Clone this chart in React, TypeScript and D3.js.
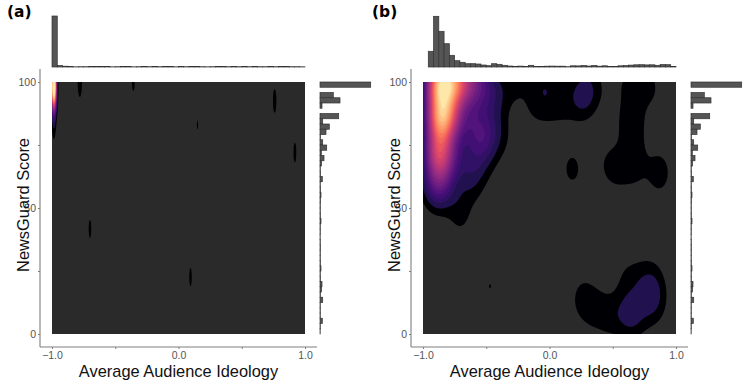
import React, { useEffect, useRef } from "react";
import * as d3 from "d3";

// histogram heights (48 bins each)
const topCountsA = [51, 1.4, 0.8, 0.4, 0.2, 0.3, 0.3, 0.4, 0.4, 0.5, 0.5, 0.2, 0.3, 0.4, 0.4, 0.2, 0.3, 0.4, 0.3, 0.4, 0.3, 0.4, 0.4, 0.2, 0.4, 0.3, 0.4, 0.4, 0.3, 0.2, 0.3, 0.4, 0.4, 0.3, 0.4, 0.3, 0.4, 0.3, 0.4, 0.3, 0.3, 0.4, 0.3, 0.4, 0.5, 0.3, 0.3, 0.2];
const topCountsB = [0, 15.7, 50.7, 35.7, 23.3, 11.7, 6.3, 4.7, 3.3, 3.3, 3, 2, 1.3, 3.3, 2.7, 1.7, 1, 0.7, 0.9, 0.6, 1.7, 0.5, 0.4, 0.8, 0.9, 0.8, 0.8, 0.3, 1.2, 1.1, 1.5, 1, 1.6, 0.8, 1.2, 0.4, 0.4, 1.2, 1.4, 1.9, 2.2, 2.3, 2.1, 2.2, 1.7, 2.4, 2.3, 0.5];
const sideCounts = [50.7, 0, 13.3, 20, 2, 0, 18.7, 2.7, 9.3, 6, 0.5, 2.7, 6.7, 1.3, 4, 1.5, 0.3, 0.5, 2.3, 0.3, 0.5, 1, 0.5, 0.3, 0.3, 0.4, 1, 0.3, 0.3, 0.2, 0.3, 0.4, 0.3, 0.3, 0.4, 1, 0.3, 0.4, 2, 1.5, 0.4, 2.7, 0.3, 0.3, 0.3, 2.3, 0.3, 0.2];

// density seeds, panel (a): audience ideology, score, weight
const seedXA = [-0.985, -0.985, -0.985, -0.78, -0.357, 0.76, 0.15, 0.92, -0.7, 0.095];
const seedYA = [100, 94, 82, 100, 100, 92.5, 83, 72, 41.7, 22.6];
const seedWA = [0.9, 0.5, 0.06, 0.085, 0.054, 0.0655, 0.0444, 0.057, 0.054, 0.054];

// density seeds, panel (b)
const seedXB = [-0.87, -0.87, -0.88, -0.86, -0.92, -0.78, -0.78, -0.78, -0.72, -0.62, -0.52, -0.42, -0.62, -0.52, -0.62, -0.55, -0.45, -0.62, -0.72, -0.7, -0.5, -0.58, -0.36, -0.28, -0.12, 0.0, 0.12, 0.26, 0.36, -0.12, 0.1, 0.3, -0.03, 0.18, 0.57, 0.72, 0.82, 0.68, 0.62, 0.68, 0.55, 0.45, 0.68, 0.87, 0.6, 0.72, 0.82, 0.26, 0.36, 0.48, 0.82, 0.84, 0.65, 0.6, 0.74, -0.47];
const seedYB = [100, 86, 72, 60, 60, 100, 86, 70, 100, 100, 98, 94, 84, 80, 68, 76, 80, 60, 52, 46, 70, 62, 78, 100, 90, 90, 90, 94, 97, 100, 100, 100, 100, 65.5, 100, 100, 97, 86, 84, 74, 66, 67, 65, 64, 23, 22, 22, 14, 10, 7, 16, 12, 7, 9, 10, 19];
const seedWB = [0.64, 0.56, 0.42, 0.15, 0.08, 0.32, 0.3, 0.13, 0.28, 0.2, 0.11, 0.06, 0.1, 0.08, 0.06, 0.05, 0.045, 0.03, 0.03, 0.03, 0.03, 0.02, 0.025, 0.045, 0.032, 0.032, 0.032, 0.08, 0.03, 0.02, 0.02, 0.02, 0.044, 0.05, 0.03, 0.04, 0.03, 0.028, 0.043, 0.03, 0.045, 0.03, 0.035, 0.06, 0.03, 0.035, 0.03, 0.05, 0.045, 0.045, 0.042, 0.036, 0.06, 0.035, 0.03, 0.0419];

const xTicks = [-1, -0.5, 0, 0.5, 1];
const yTicks = [0, 25, 50, 75, 100];
const xLabels = [-1, 0, 1];
const yLabels = [0, 50, 100];

const NBANDS = 24;
const STEP = 1 / NBANDS;
const GRID = 2; // grid cells per pixel
const W = 253;
const H = 252;
const bandColor = (k: number) =>
  k === 0 ? d3.interpolateMagma(0) : d3.interpolateMagma(0.14 + ((k - 1) / (NBANDS - 2)) * 0.85);

function densityPaths(seedX: number[], seedY: number[], seedW: number[], bwX: number, bwY: number, left: number, top: number) {
  const n = W * GRID;
  const m = H * GRID;
  const gx = d3.scaleLinear([0, n], [-1, 1]);
  const gy = d3.scaleLinear([0, m], [100, 0]);
  const values = new Float64Array(n * m);
  seedX.forEach((sx, s) => {
    for (let j = 0; j < m; j++) {
      const dy = (gy(j + 0.5) - seedY[s]) / bwY;
      if (dy * dy > 25) continue;
      for (let i = 0; i < n; i++) {
        const dx = (gx(i + 0.5) - sx) / bwX;
        const d = dx * dx + dy * dy;
        if (d < 25) values[j * n + i] += seedW[s] * Math.exp(-d / 2);
      }
    }
  });
  const thresholds = d3.range(1, NBANDS).map((k) => k * STEP);
  const contours = d3.contours().size([n, m]).smooth(true).thresholds(thresholds)(values as any);
  const path = d3.geoPath(
    d3.geoTransform({
      point(x, y) {
        this.stream.point(left + x / GRID, top + y / GRID);
      },
    })
  );
  return contours.map((c, k) => ({ d: path(c as any) || "", fill: bandColor(k) }));
}

const Panel = ({ left, label, labelX, topCounts, seedX, seedY, seedW, bwX, bwY }: any) => {
  const top = 82;
  const axisX = left - 12;
  const axisY = 347;
  const x = d3.scaleLinear([-1, 1], [left, left + W]);
  const y = d3.scaleLinear([0, 100], [top + H, top]);
  const topBand = d3.scaleBand(d3.range(48), [left, left + W]);
  const sideBand = d3.scaleBand(d3.range(48), [top, top + H]);
  const hTop = d3.scaleLinear([0, 51], [67, 16]);
  const hSide = d3.scaleLinear([0, 51], [left + 268, left + 319]);
  const xAxisRef = useRef<SVGGElement>(null);
  const yAxisRef = useRef<SVGGElement>(null);

  useEffect(() => {
    const xAxis = d3
      .axisBottom(x)
      .tickValues(xTicks)
      .tickSize(2)
      .tickPadding(3)
      .tickFormat((v) => (xLabels.includes(v as number) ? d3.format(".1f")(v as number) : ""));
    const yAxis = d3
      .axisLeft(y)
      .tickValues(yTicks)
      .tickSize(2)
      .tickPadding(2)
      .tickFormat((v) => (yLabels.includes(v as number) ? String(v) : ""));
    [d3.select(xAxisRef.current!).call(xAxis as any), d3.select(yAxisRef.current!).call(yAxis as any)].forEach((g) => {
      g.select(".domain").remove();
      g.selectAll(".tick line").attr("stroke", "#7f7f7f");
      g.selectAll(".tick text").attr("fill", "#555").attr("font-size", 10.5).attr("font-family", "Liberation Sans");
    });
  }, []);

  const bands = densityPaths(seedX, seedY, seedW, bwX, bwY, left, top);

  return (
    <g>
      <text x={labelX} y={17} fontFamily="DejaVu Sans" fontWeight="bold" fontSize={15.5}>
        {label}
      </text>
      <rect x={left} y={top} width={W} height={H} fill="#2a2a2a" />
      {bands.map((b, i) => (
        <path key={i} d={b.d} fill={b.fill} />
      ))}
      {topCounts.map((v: number, i: number) => (
        <rect key={i} x={topBand(i)} y={hTop(v)} width={topBand.bandwidth()} height={hTop(0) - hTop(v)} fill="#555" stroke="#333" strokeWidth={0.7} />
      ))}
      {sideCounts.map((v, i) => (
        <rect key={i} x={hSide(0)} y={sideBand(i)} width={hSide(v) - hSide(0)} height={sideBand.bandwidth()} fill="#555" stroke="#333" strokeWidth={0.7} />
      ))}
      <line x1={axisX} x2={axisX} y1={69} y2={axisY} stroke="#7f7f7f" strokeWidth={1.1} />
      <line x1={axisX} x2={left + 265} y1={axisY} y2={axisY} stroke="#7f7f7f" strokeWidth={1.1} />
      <g ref={xAxisRef} transform={`translate(0,${axisY})`} />
      <g ref={yAxisRef} transform={`translate(${axisX},0)`} />
      <text x={left + W / 2} y={377} textAnchor="middle" fontFamily="Liberation Sans" fontSize={16.4} fill="#111">
        Average Audience Ideology
      </text>
      <text transform={`translate(${left - 23},${top + H / 2 - 3}) rotate(-90)`} textAnchor="middle" fontFamily="Liberation Sans" fontSize={16.4} fill="#111">
        NewsGuard Score
      </text>
    </g>
  );
};

export default function App() {
  return (
    <svg width={747} height={386} style={{ position: "absolute", left: 0, top: 0, background: "#fff" }}>
      <Panel left={52} label="(a)" labelX={7} topCounts={topCountsA} seedX={seedXA} seedY={seedYA} seedW={seedWA} bwX={0.014} bwY={5} />
      <Panel left={423} label="(b)" labelX={372} topCounts={topCountsB} seedX={seedXB} seedY={seedYB} seedW={seedWB} bwX={0.075} bwY={7} />
    </svg>
  );
}
